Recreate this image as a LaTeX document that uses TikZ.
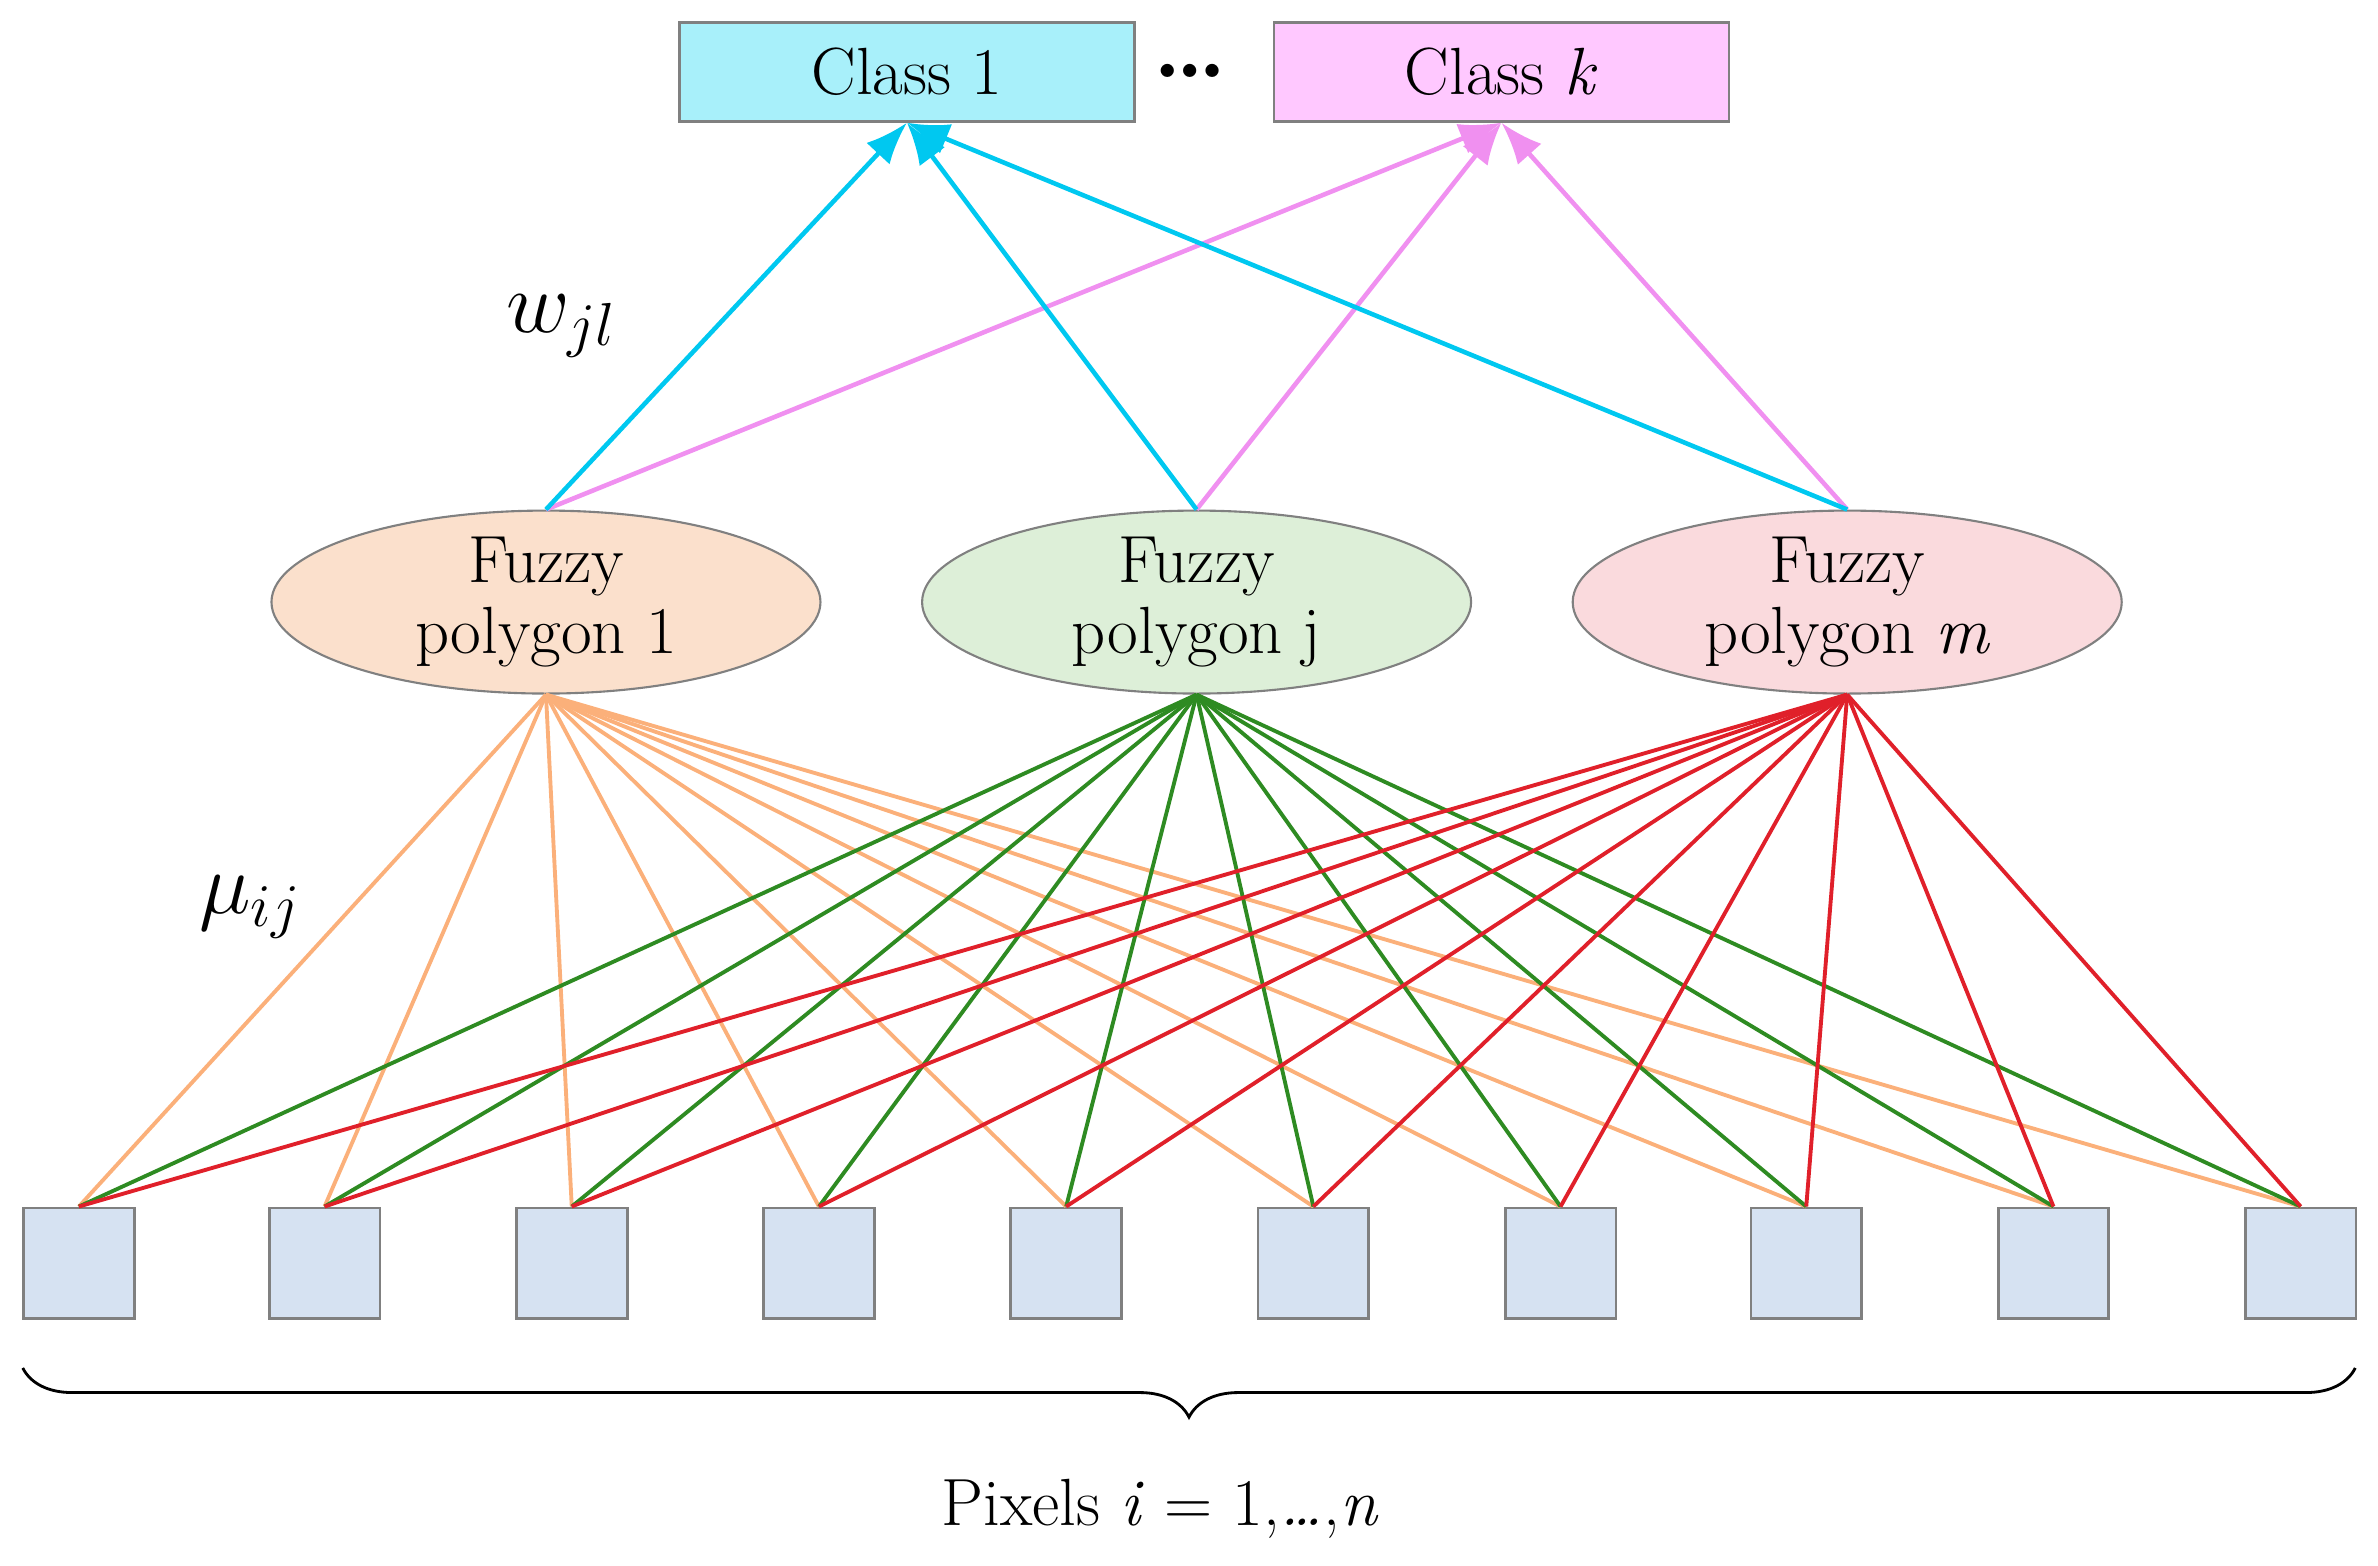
\documentclass[tikz,border=0pt]{standalone}
\usetikzlibrary{shapes.geometric,arrows.meta,decorations.pathreplacing}
\definecolor{cone}{HTML}{A8F0FA}
\definecolor{ck}{HTML}{FFC8FF}
\definecolor{e1}{HTML}{FBE0CC}
\definecolor{e2}{HTML}{DDEFD8}
\definecolor{e3}{HTML}{FADADD}
\definecolor{sq}{HTML}{D6E2F2}
\definecolor{lo}{HTML}{FBB07A}
\definecolor{lg}{HTML}{2E8B22}
\definecolor{lr}{HTML}{E0202A}
\definecolor{ac}{HTML}{00C8F0}
\definecolor{ap}{HTML}{F090F0}
\begin{document}
\begin{tikzpicture}[x=0.01517cm,y=-0.01517cm,
  font=\fontsize{19}{20}\selectfont,
  cls/.style={draw=gray,line width=0.8pt,minimum width=300*0.01517cm,minimum height=65*0.01517cm,inner sep=0},
  ell/.style={ellipse,draw=gray,line width=0.6pt,minimum width=362*0.01517cm,minimum height=106*0.01517cm,inner sep=0,align=center},
  px/.style={draw=gray,line width=0.8pt,fill=sq,minimum size=73*0.01517cm,inner sep=0},
  ln/.style={line width=1.1pt},
  ar/.style={line width=1.3pt,-{Latex[length=12pt,width=9pt]}}]
\useasboundingbox (0,0) rectangle (1568,1032);
\node[cls,fill=cone] (c1) at (598,47.5) {Class 1};
\node[cls,fill=ck] (ck) at (990,47.5) {Class \textit{k}};
\node (dots) at (785,47) {\fontsize{26}{28}\selectfont\textbf{\dots}};
\node[ell,fill=e1] (f1) at (360,397) {Fuzzy\\polygon 1};
\node[ell,fill=e2] (f2) at (789,397) {Fuzzy\\polygon j};
\node[ell,fill=e3] (f3) at (1218,397) {Fuzzy\\polygon \textit{m}};
\foreach \i/\x in {1/52,2/214,3/377,4/540,5/703,6/866,7/1029,8/1191,9/1354,10/1517}
  \node[px] (p\i) at (\x,833) {};
\foreach \i in {1,...,10}{
  \draw[ln,lo] (f1.south) -- (p\i.north);}
\foreach \i in {1,...,10}{
  \draw[ln,lg] (f2.south) -- (p\i.north);}
\foreach \i in {1,...,10}{
  \draw[ln,lr] (f3.south) -- (p\i.north);}
\draw[ar,ap] (f1.north) -- (ck.south);
\draw[ar,ap] (f2.north) -- (ck.south);
\draw[ar,ap] (f3.north) -- (ck.south);
\draw[ar,ac] (f1.north) -- (c1.south);
\draw[ar,ac] (f2.north) -- (c1.south);
\draw[ar,ac] (f3.north) -- (c1.south);
\node (w) at (370,215) {\fontsize{26}{28}\selectfont$w_{jl}$};
\node (mu) at (165,598) {\fontsize{26}{28}\selectfont$\mu_{ij}$};
\coordinate (bl) at (15,902);
\coordinate (br) at (1553,902);
\draw[line width=0.8pt,decorate,decoration={brace,mirror,amplitude=14pt}] (bl) -- (br);
\node (pix) at (765,995) {Pixels \textit{i} = 1,\textit{\dots},\textit{n}};
\end{tikzpicture}
\end{document}
